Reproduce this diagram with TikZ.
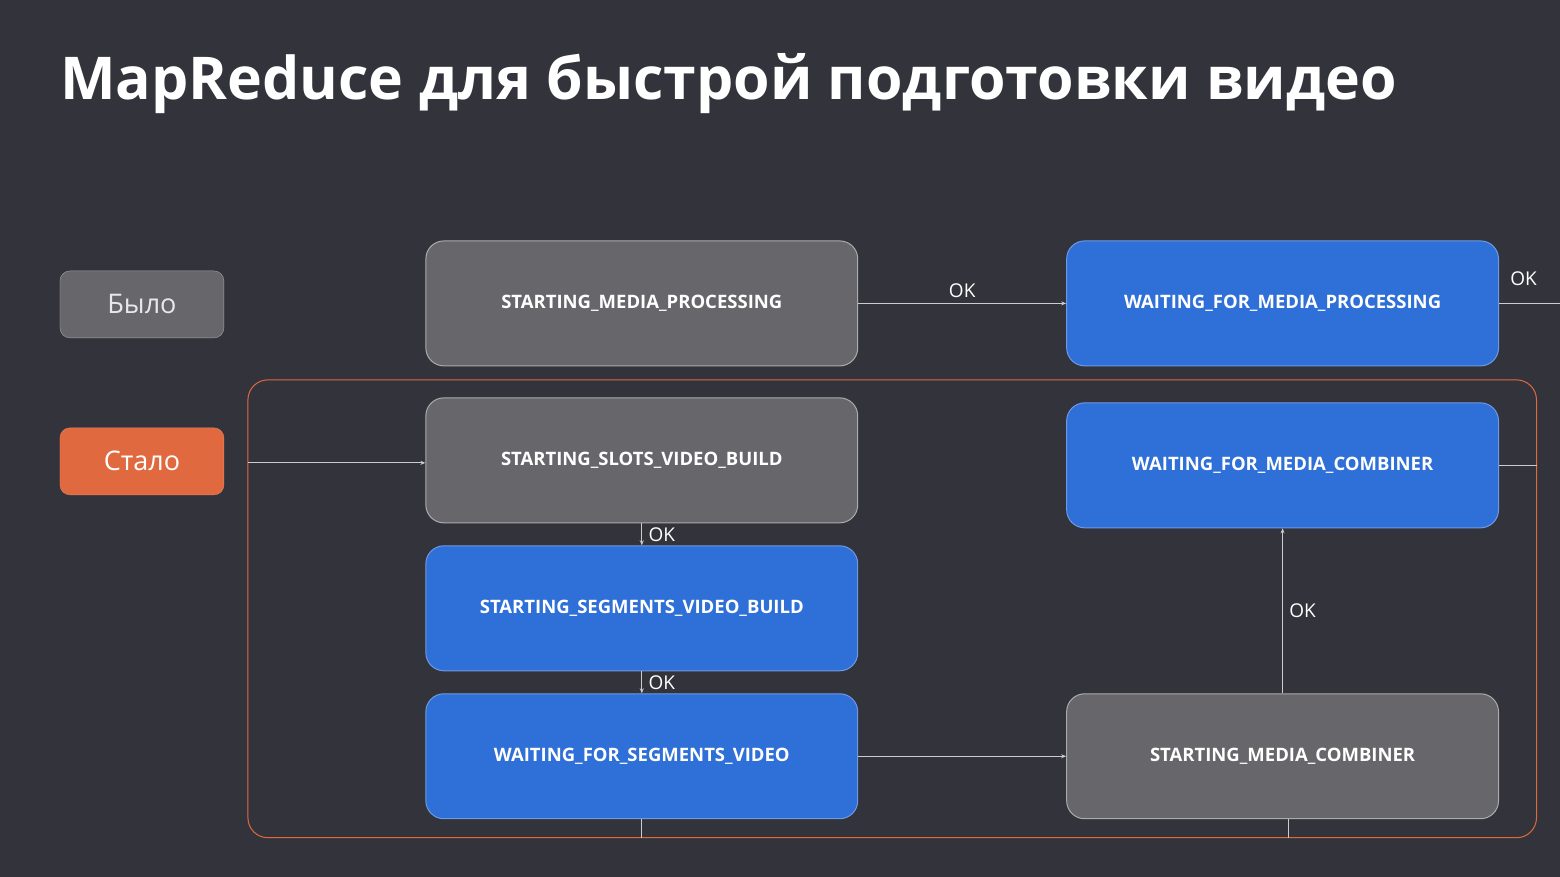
\documentclass[tikz,border=0pt]{standalone}
\usepackage{fontspec}
\setmainfont{Open Sans}
\usetikzlibrary{arrows.meta}
\definecolor{bg}{HTML}{33333B}
\definecolor{stgray}{HTML}{67666A}
\definecolor{stblue}{HTML}{2F6FD8}
\definecolor{orng}{HTML}{E0693F}
\begin{document}
\begin{tikzpicture}[x=1pt,y=-1pt,
    >={Stealth[length=5pt,width=4pt]}]
    \tikzstyle{state}=[rounded corners=18pt,minimum width=432pt,minimum height=125pt,
        draw=white!45!stgray,line width=1pt,text=white,font=\bfseries\fontsize{18.5}{20}\selectfont]
    \tikzstyle{gray state}=[state, fill=stgray];
    \tikzstyle{blue state}=[state, fill=stblue, draw=stblue!70!white];
    \tikzstyle{tag}=[rounded corners=10pt,minimum width=164pt,minimum height=67pt,
        text=white!85!stgray,font=\fontsize{27}{30}\selectfont]
    \tikzstyle{link}=[draw=white!75!bg,line width=1pt]
    \tikzstyle{lbl}=[text=white,font=\fontsize{19}{22}\selectfont]

    \fill[bg] (0,0) rectangle (1560,877);
    \node[anchor=base west,inner sep=0pt,text=white,font=\bfseries\fontsize{59}{64}\selectfont] (title) at (60,100) {MapReduce для быстрой подготовки видео};

    % Labels on the left
    \node[tag,fill=stgray,draw=white!40!stgray] (old) at (142,304.5) {Было};
    \node[tag,fill=orng,draw=orng!80!white,text=white] (new) at (142,461.5) {Стало};

    % Frame of the new pipeline
    \draw[orng,line width=1pt,rounded corners=20pt] (248,380) rectangle (1537,838);

    % States
    \node[gray state] (SMP) at (642,303.5) {STARTING\_MEDIA\_PROCESSING};
    \node[blue state] (WMP) at (1283,303.5) {WAITING\_FOR\_MEDIA\_PROCESSING};
    \node[gray state] (SSV) at (642,460.5) {STARTING\_SLOTS\_VIDEO\_BUILD};
    \node[blue state] (SGV) at (642,608.5) {STARTING\_SEGMENTS\_VIDEO\_BUILD};
    \node[blue state] (WSV) at (642,756.5) {WAITING\_FOR\_SEGMENTS\_VIDEO};
    \node[gray state] (SMC) at (1283,756.5) {STARTING\_MEDIA\_COMBINER};
    \node[blue state] (WMC) at (1283,465.5) {WAITING\_FOR\_MEDIA\_COMBINER};

    \coordinate (in) at (248,463);
    \coordinate (out) at (1560,306);
    \coordinate (rside) at (1537,461);
    \coordinate (b1) at (642,838);
    \coordinate (b2) at (1289,838);

    % Connections
    \draw[link,->] (SMP.east) -- node[lbl,above=2pt] {OK} (WMP.west);
    \draw[link] (WMP.east) -- (WMP.east -| out);
    \node[lbl] at (1524,279) {OK};
    \draw[link,->] (in) -- (in -| SSV.west);
    \draw[link,->] (SSV.south) -- node[lbl,right=3pt] {OK} (SGV.north);
    \draw[link,->] (SGV.south) -- node[lbl,right=3pt] {OK} (WSV.north);
    \draw[link,->] (WSV.east) -- (SMC.west);
    \draw[link,->] (SMC.north) -- node[lbl,right=3pt] {OK} (WMC.south);
    \draw[link] (WMC.east) -- (WMC.east -| rside);
    \draw[link] (WSV.south) -- (b1);
    \draw[link] (SMC.south -| b2) -- (b2);
\end{tikzpicture}
\end{document}
